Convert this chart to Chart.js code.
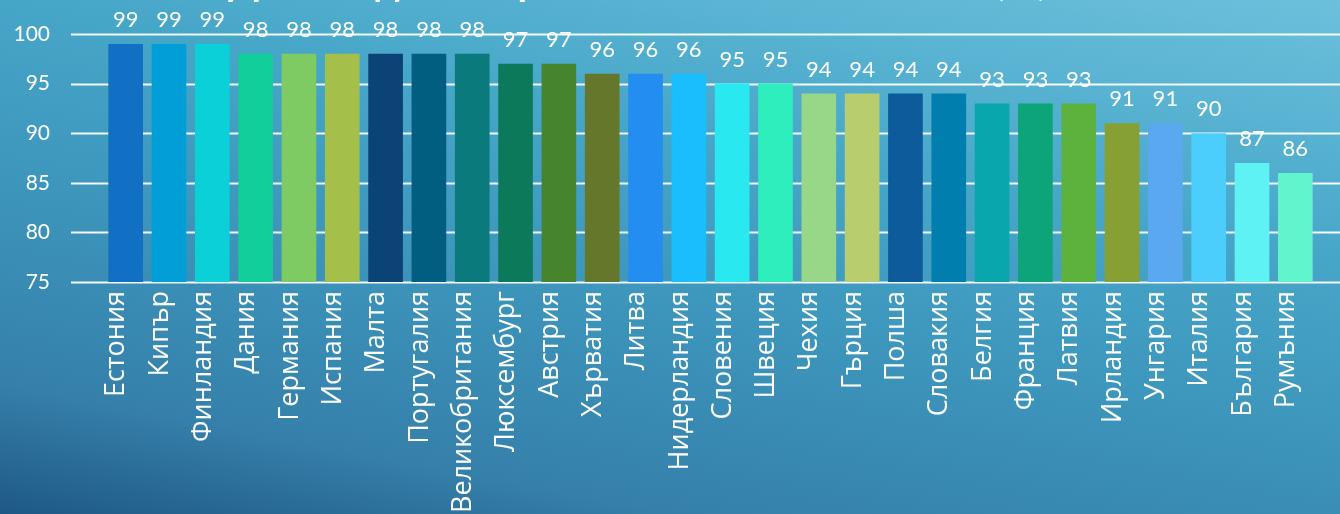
<!DOCTYPE html>
<html lang="bg">
<head>
<meta charset="utf-8">
<title>Достъп до интернет</title>
<script src="https://cdn.jsdelivr.net/npm/chart.js@4.4.1/dist/chart.umd.min.js"></script>
<style>
  html, body { margin: 0; padding: 0; }
  body {
    width: 1340px;
    height: 514px;
    overflow: hidden;
    background: linear-gradient(11deg, #1f5886 0%, #3580aa 17%, #3c93ba 40%, #46a6c8 66%, #6cc0dc 100%);
  }
  .chart-box { position: relative; width: 1340px; height: 514px; }
</style>
</head>
<body>
<div class="chart-box"><canvas id="chart"></canvas></div>
<script>
const countries = ['Естония', 'Кипър', 'Финландия', 'Дания', 'Германия', 'Испания', 'Малта',
  'Португалия', 'Великобритания', 'Люксембург', 'Австрия', 'Хърватия', 'Литва', 'Нидерландия',
  'Словения', 'Швеция', 'Чехия', 'Гърция', 'Полша', 'Словакия', 'Белгия', 'Франция', 'Латвия',
  'Ирландия', 'Унгария', 'Италия', 'България', 'Румъния'];
const values = [99, 99, 99, 98, 98, 98, 98, 98, 98, 97, 97, 96, 96, 96, 95, 95, 94, 94, 94, 94,
  93, 93, 93, 91, 91, 90, 87, 86];
const barColors = ['#1270c4', '#029ed8', '#0cd0d8', '#12ce9a', '#7dcb62', '#a5c04a', '#0b4377',
  '#025e80', '#0b7a7c', '#0c7a5a', '#46842d', '#65772a', '#248ef0', '#1abefc', '#2ae8f0',
  '#2eeebe', '#98d688', '#b8cd6e', '#0e5b9c', '#007fae', '#0aa6ae', '#0ea47a', '#5cb23c',
  '#86a034', '#5aa8f0', '#4ccefc', '#5ef2f4', '#62f4cc'];
const yTicks = [75, 80, 85, 90, 95, 100];
const chartTitle = 'Достъп до интернет на населението в ЕС (%)';

// white grid lines run past the plot on both sides, like in the slide
const fullGrid = {
  id: 'fullGrid',
  beforeDatasetsDraw(chart) {
    const ctx = chart.ctx;
    const y = chart.scales.y;
    ctx.save();
    ctx.strokeStyle = 'rgba(255,255,255,0.95)';
    ctx.lineWidth = 2;
    yTicks.forEach(v => {
      const py = Math.round(y.getPixelForValue(v)) + 0.5;
      ctx.beginPath();
      ctx.moveTo(71, py);
      ctx.lineTo(chart.width, py);
      ctx.stroke();
    });
    ctx.restore();
  }
};

const valueLabels = {
  id: 'valueLabels',
  afterDatasetsDraw(chart) {
    const ctx = chart.ctx;
    const meta = chart.getDatasetMeta(0);
    ctx.save();
    ctx.fillStyle = '#ffffff';
    ctx.font = '22px Lato';
    ctx.textAlign = 'center';
    ctx.textBaseline = 'middle';
    meta.data.forEach((bar, i) => {
      ctx.fillText(values[i], bar.x, bar.y - 24);
    });
    ctx.restore();
  }
};

// the slide title is mostly cut off above the picture
const cutTitle = {
  id: 'cutTitle',
  afterDraw(chart) {
    const ctx = chart.ctx;
    ctx.save();
    ctx.fillStyle = '#ffffff';
    ctx.font = 'bold 34px Lato';
    const size = 34 * 820 / ctx.measureText(chartTitle).width;
    ctx.font = 'bold ' + size.toFixed(1) + 'px Lato';
    ctx.textBaseline = 'alphabetic';
    ctx.textAlign = 'left';
    ctx.fillText(chartTitle, 228, -5);
    ctx.restore();
  }
};

new Chart(document.getElementById('chart'), {
  type: 'bar',
  data: {
    labels: countries,
    datasets: [{
      data: values,
      backgroundColor: barColors,
      borderWidth: 0,
      barPercentage: 0.8,
      categoryPercentage: 1
    }]
  },
  options: {
    responsive: true,
    maintainAspectRatio: false,
    animation: false,
    devicePixelRatio: 1,
    layout: { padding: { top: 34, right: 23, left: 0, bottom: 0 } },
    plugins: {
      legend: { display: false },
      title: { display: false },
      tooltip: { enabled: false }
    },
    scales: {
      x: {
        grid: { display: false, drawTicks: false },
        border: { display: false },
        afterFit: s => { s.height = 232; },
        ticks: {
          autoSkip: false,
          minRotation: 90,
          maxRotation: 90,
          padding: 9,
          labelOffset: -9,
          color: '#ffffff',
          font: { family: 'Open Sans', size: 27 }
        }
      },
      y: {
        min: yTicks[0],
        max: yTicks[yTicks.length - 1],
        // hidden tick marks only push the labels out to the left edge
        grid: { display: false, drawTicks: true, tickLength: 54 },
        border: { display: false },
        afterFit: s => { s.width = 104; },
        ticks: {
          stepSize: 5,
          padding: 0,
          color: '#ffffff',
          font: { family: 'Lato', size: 21 }
        }
      }
    }
  },
  plugins: [fullGrid, valueLabels, cutTitle]
});
</script>
</body>
</html>
